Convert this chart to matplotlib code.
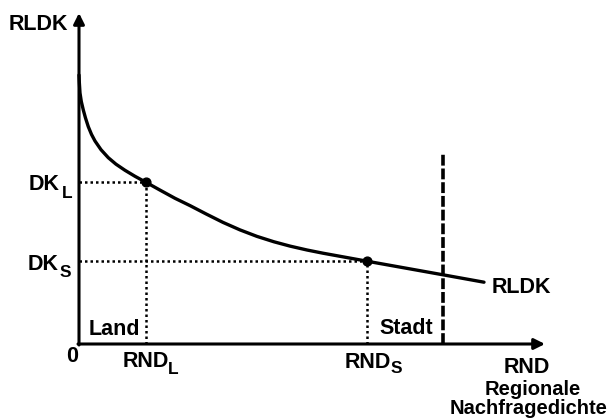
import matplotlib
matplotlib.use("Agg")
import matplotlib.pyplot as plt

plt.rcParams["font.family"] = ["Liberation Sans", "DejaVu Sans"]

# RLDK curve (RND on x, RLDK on y)
curve_x = [0, 0.3, 1, 2.3, 4.3, 6.5, 9.3, 12.5, 16, 22, 29.3, 37, 46, 56, 67, 81, 96,
           111, 127, 144, 161, 178, 195, 211, 228, 244, 266, 288, 326, 364, 405]
curve_y = [269, 262, 251, 242.5, 234, 226, 217.3, 209.6, 203, 194.3, 186.3, 179.8, 173.7,
           167.7, 161.7, 153.9, 145.7, 138.4, 130.1, 121.6, 114.1, 107.6, 102.2, 97.9, 94,
           90.8, 86.8, 82.8, 76, 69.2, 61.8]

# marked points: Land and Stadt
dot_x = [67, 288]
dot_y = [161.7, 82.8]

# border Land / Stadt
border_x = 364
border_top = 191

# axis ends
x_end = 466
y_end = 331

fig = plt.figure(figsize=(6.14, 4.18), dpi=100)
ax = fig.add_axes([0, 0, 1, 1])
ax.set_xlim(-79, 535)
ax.set_ylim(-74, 344)
ax.axis("off")

# axes with arrows
arrow = dict(arrowstyle="-|>", lw=2.2, color="black", mutation_scale=16, shrinkA=0, shrinkB=0)
ax.annotate("", xy=(0, y_end), xytext=(0, -1), arrowprops=arrow)
ax.annotate("", xy=(x_end, 0), xytext=(-1, 0), arrowprops=arrow)

# dotted guide lines
for x, y in zip(dot_x, dot_y):
    ax.plot([0, x], [y, y], color="black", lw=1.8, ls=(0, (1, 1.2)))
    ax.plot([x, x], [0, y], color="black", lw=1.8, ls=(0, (1, 1.2)))

# the curve
ax.plot(curve_x, curve_y, color="black", lw=2.4, solid_capstyle="round", solid_joinstyle="round")
ax.scatter(dot_x, dot_y, s=40, color="black", zorder=5)

# border line
ax.plot([border_x, border_x], [0, border_top], color="black", lw=2.6, ls=(0, (3, 0.8)))

fs = 15.5
sub = 12.5
txt = dict(fontsize=fs, fontweight="bold", color="black")
subtxt = dict(fontsize=sub, fontweight="bold", color="black")

ax.text(-11, 314, "RLDK", ha="right", va="baseline", **txt)

# DK_L, DK_S
ax.text(-19, 154, "DK", ha="right", va="baseline", **txt)
ax.text(-17, 146, "L", ha="left", va="baseline", **subtxt)
ax.text(-20, 74, "DK", ha="right", va="baseline", **txt)
ax.text(-19, 67, "S", ha="left", va="baseline", **subtxt)

ax.text(-6.5, -18, "0", ha="center", va="baseline", **txt)

# RND_L, RND_S
ax.text(44, -23, "RND", ha="left", va="baseline", **txt)
ax.text(89, -30, "L", ha="left", va="baseline", **subtxt)
ax.text(266, -24, "RND", ha="left", va="baseline", **txt)
ax.text(312, -29, "S", ha="left", va="baseline", **subtxt)

ax.text(10, 9, "Land", ha="left", va="baseline", **txt)
ax.text(300, 10, "Stadt", ha="left", va="baseline", **txt)
ax.text(413, 51, "RLDK", ha="left", va="baseline", **txt)
ax.text(448, -29, "RND", ha="center", va="baseline", **txt)
ax.text(454, -51, "Regionale", ha="center", va="baseline", fontsize=14.5, fontweight="bold")
ax.text(450, -70, "Nachfragedichte", ha="center", va="baseline", fontsize=14.5, fontweight="bold")

fig.savefig("out.png", dpi=100)
